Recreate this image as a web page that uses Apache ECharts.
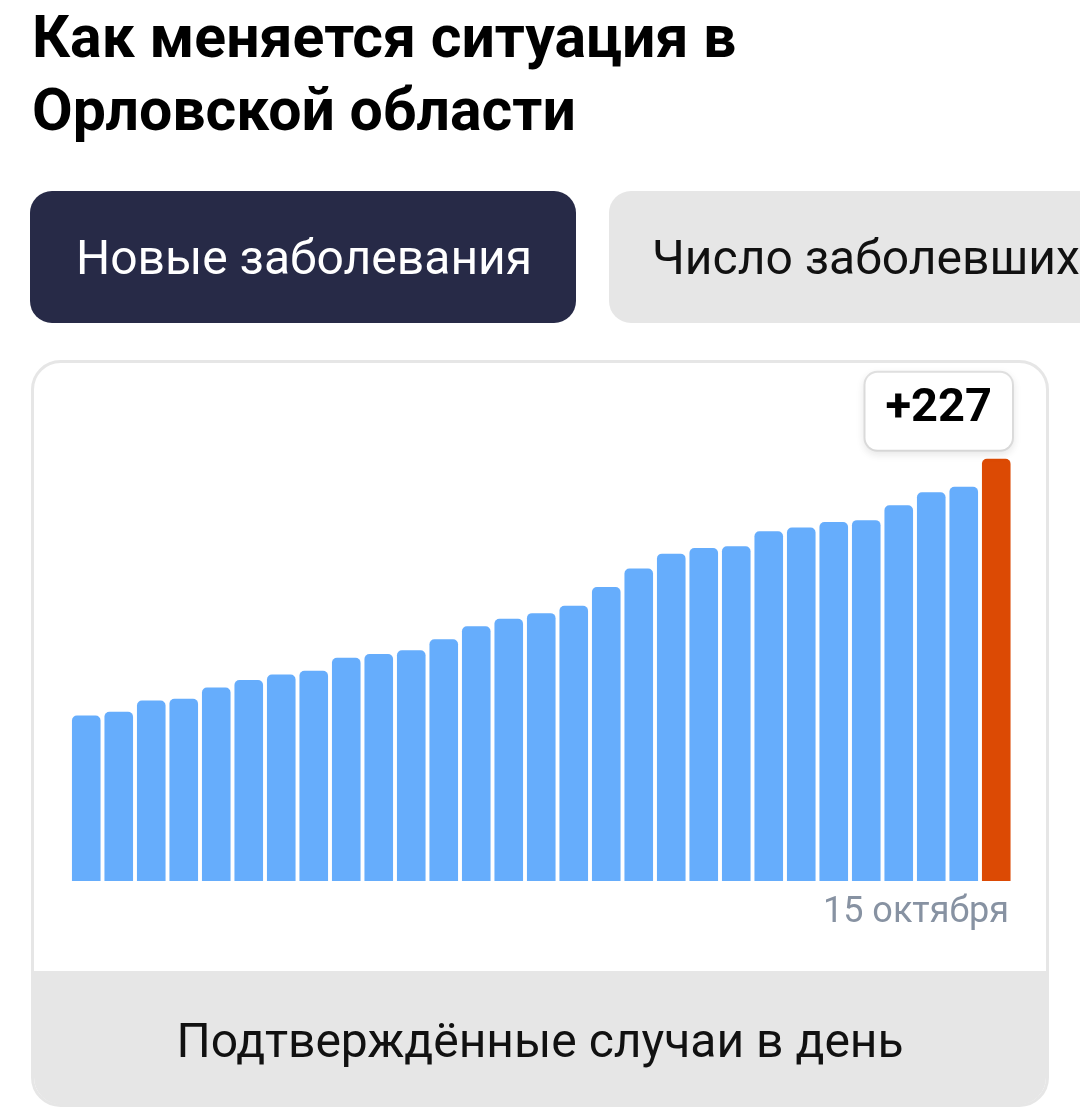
<!DOCTYPE html>
<html>
<head>
<meta charset="utf-8">
<script src="https://cdn.jsdelivr.net/npm/echarts@6/dist/echarts.min.js"></script>
<style>
html,body{margin:0;padding:0;background:#fff;}
#chart{width:1080px;height:1116px;}
</style>
</head>
<body>
<div id="chart"></div>
<script>
// Data
var categories = ["17 сентября","18 сентября","19 сентября","20 сентября","21 сентября","22 сентября","23 сентября","24 сентября","25 сентября","26 сентября","27 сентября","28 сентября","29 сентября","30 сентября","1 октября","2 октября","3 октября","4 октября","5 октября","6 октября","7 октября","8 октября","9 октября","10 октября","11 октября","12 октября","13 октября","14 октября","15 октября"];
var newCases = [89,91,97,98,104,108,111,113,120,122,124,130,137,141,144,148,158,168,176,179,180,188,190,193,194,202,209,212,227];
var titleLines = ["Как меняется ситуация в","Орловской области"];
var tabLabels = ["Новые заболевания","Число заболевших"];
var footerText = "Подтверждённые случаи в день";

var BLUE = '#66adfc', ORANGE = '#dc4a04';
var FONT = 'Roboto';

var chart = echarts.init(document.getElementById('chart'));
var lastIdx = newCases.length - 1;

var option = {
  backgroundColor: '#ffffff',
  animation: false,
  grid: {left: 70, right: 67.5, top: 416, bottom: 235},
  xAxis: {
    type: 'category',
    data: categories,
    axisLine: {show: false},
    axisTick: {show: false},
    axisLabel: {show: false}
  },
  yAxis: {
    type: 'value',
    min: 0, max: 250,
    show: false
  },
  graphic: [
    {type: 'text', left: 32, top: 13, z: 10, style: {text: titleLines[0], font: 'bold 59px ' + FONT, fill: '#000'}},
    {type: 'text', left: 32, top: 86, z: 10, style: {text: titleLines[1], font: 'bold 59px ' + FONT, fill: '#000'}},
    {type: 'rect', z: 1, shape: {x: 30, y: 191, width: 546, height: 132, r: 22}, style: {fill: '#272a47'}},
    {type: 'text', z: 10, x: 304, y: 262, style: {text: tabLabels[0], font: '48px ' + FONT, fill: '#fff', align: 'center', verticalAlign: 'middle'}},
    {type: 'rect', z: 1, shape: {x: 609, y: 191, width: 540, height: 132, r: 22}, style: {fill: '#e6e6e6'}},
    {type: 'text', z: 10, x: 652, y: 262, style: {text: tabLabels[1], font: '48px ' + FONT, fill: '#111', align: 'left', verticalAlign: 'middle'}},
    {type: 'rect', z: 0, shape: {x: 32.5, y: 361.5, width: 1015, height: 744, r: 28}, style: {fill: '#fff', stroke: '#e6e6e6', lineWidth: 3}},
    {type: 'rect', z: 1, shape: {x: 34, y: 971, width: 1012, height: 133.5, r: [0, 0, 27, 27]}, style: {fill: '#e6e6e6'}},
    {type: 'text', z: 10, x: 540, y: 1045, style: {text: footerText, font: '48px ' + FONT, fill: '#111', align: 'center', verticalAlign: 'middle'}},
    {type: 'text', z: 10, x: 1009, y: 913, style: {text: categories[lastIdx], font: '36px ' + FONT, fill: '#8792a2', align: 'right', verticalAlign: 'middle'}}
  ],
  series: [{
    type: 'bar',
    barCategoryGap: '12%',
    z: 5,
    data: newCases.map(function (v, i) {
      var item = {value: v, itemStyle: {color: i === lastIdx ? ORANGE : BLUE, borderRadius: [5, 5, 0, 0]}};
      if (i === lastIdx) {
        item.label = {
          show: true,
          position: 'top',
          distance: 9,
          offset: [-57.5, 0],
          formatter: '+{c}',
          fontFamily: FONT,
          fontWeight: 'bold',
          fontSize: 47,
          lineHeight: 47,
          color: '#000',
          backgroundColor: '#fff',
          borderColor: '#e2e2e2',
          borderWidth: 2,
          borderRadius: 12,
          padding: [13, 20, 17, 20],
          shadowColor: 'rgba(0,0,0,0.08)',
          shadowBlur: 8,
          shadowOffsetY: 3
        };
      }
      return item;
    })
  }]
};
chart.setOption(option);
</script>
</body>
</html>
